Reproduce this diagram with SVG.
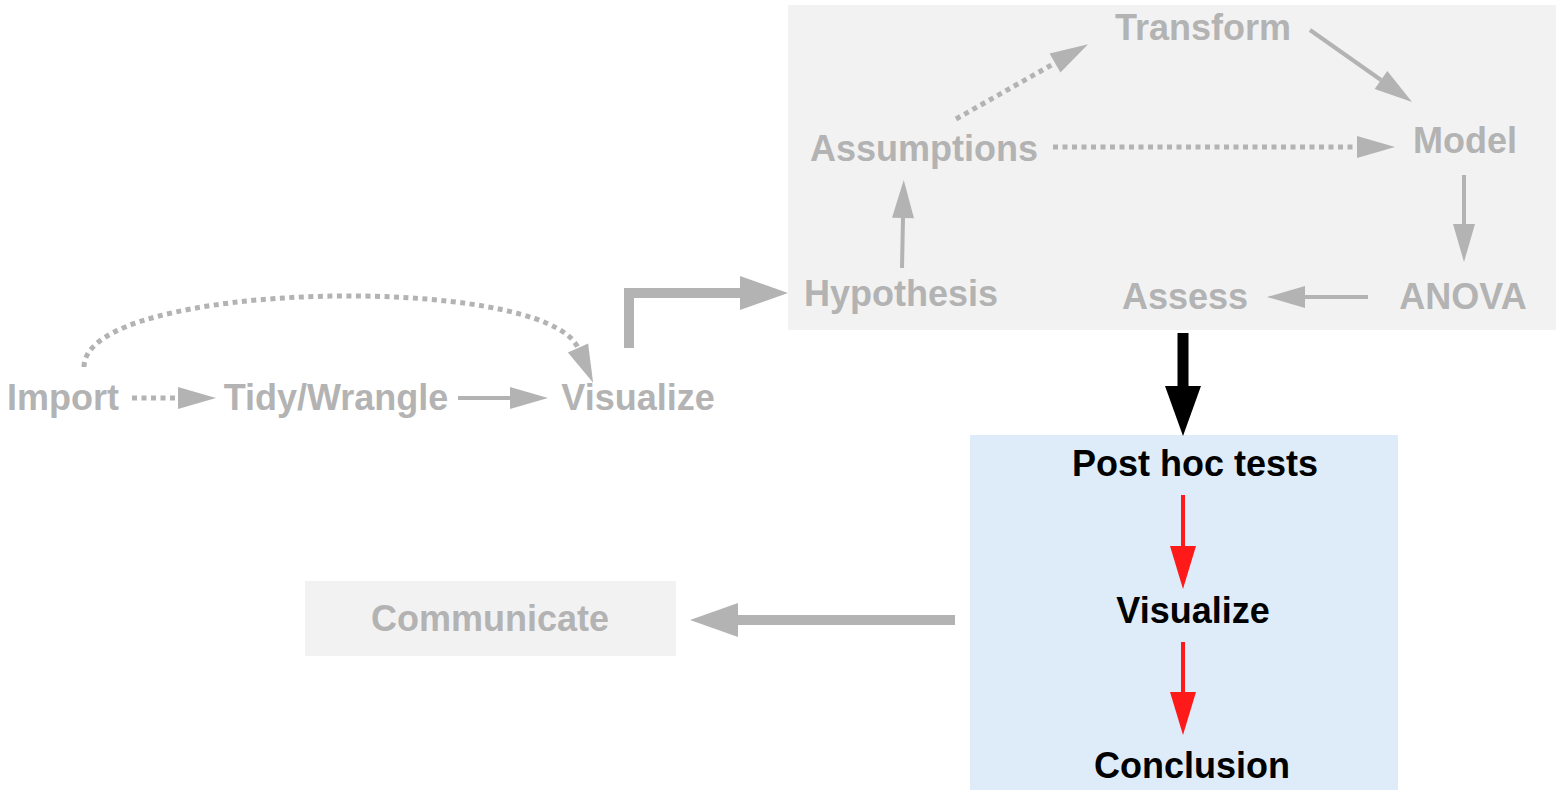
<svg xmlns="http://www.w3.org/2000/svg" width="1561" height="798" viewBox="0 0 1561 798">
  <style>
    text { font-family: "Liberation Sans", Arial, sans-serif; font-weight: bold; font-size: 36px; text-anchor: middle; }
    .muted { fill: #b3b3b3; }
    .dark { fill: #000000; }
    .ln { fill: none; stroke: #b3b3b3; stroke-width: 4; }
    .dot { stroke-width: 5; stroke-dasharray: 5 4.5; }
    .thick { fill: none; stroke: #b3b3b3; stroke-width: 10; stroke-linejoin: miter; }
    .blk { fill: none; stroke: #000000; stroke-width: 11; }
    .red { fill: none; stroke: #ff1a1a; stroke-width: 4; }
  </style>
  <defs>
    <marker id="ah" markerUnits="userSpaceOnUse" orient="auto" refX="0" refY="0" markerWidth="1" markerHeight="1" overflow="visible">
      <path d="M0,-11 L38,0 L0,11 z" fill="#b3b3b3"/>
    </marker>
    <marker id="ahBig" markerUnits="userSpaceOnUse" orient="auto" refX="0" refY="0" markerWidth="1" markerHeight="1" overflow="visible">
      <path d="M0,-17 L48,0 L0,17 z" fill="#b3b3b3"/>
    </marker>
    <marker id="ahBlack" markerUnits="userSpaceOnUse" orient="auto" refX="0" refY="0" markerWidth="1" markerHeight="1" overflow="visible">
      <path d="M0,-18 L50,0 L0,18 z" fill="#000000"/>
    </marker>
    <marker id="ahRed" markerUnits="userSpaceOnUse" orient="auto" refX="0" refY="0" markerWidth="1" markerHeight="1" overflow="visible">
      <path d="M0,-13 L43,0 L0,13 z" fill="#ff1a1a"/>
    </marker>
  </defs>

  <!-- background panels -->
  <g id="panels">
    <rect id="analysis-panel" x="788" y="5" width="768" height="325" fill="#f2f2f2"/>
    <rect id="posthoc-panel" x="970" y="435" width="428" height="355" fill="#deecf9"/>
  </g>

  <!-- nodes -->
  <g id="node-import"><text class="muted" x="63" y="410">Import</text></g>
  <g id="node-tidy"><text class="muted" x="336" y="410">Tidy/Wrangle</text></g>
  <g id="node-visualize1"><text class="muted" x="638" y="410">Visualize</text></g>
  <g id="node-hypothesis"><text class="muted" x="901" y="306">Hypothesis</text></g>
  <g id="node-assumptions"><text class="muted" x="924" y="161">Assumptions</text></g>
  <g id="node-transform"><text class="muted" x="1203" y="40">Transform</text></g>
  <g id="node-model"><text class="muted" x="1465" y="153">Model</text></g>
  <g id="node-anova"><text class="muted" x="1463" y="309">ANOVA</text></g>
  <g id="node-assess"><text class="muted" x="1185" y="309">Assess</text></g>
  <g id="node-posthoc"><text class="dark" x="1195" y="476">Post hoc tests</text></g>
  <g id="node-visualize2"><text class="dark" x="1193" y="623">Visualize</text></g>
  <g id="node-conclusion"><text class="dark" x="1192" y="778">Conclusion</text></g>
  <g id="node-communicate">
    <rect x="305" y="581" width="371" height="75" fill="#f2f2f2"/>
    <text class="muted" x="490" y="631">Communicate</text>
  </g>

  <!-- connectors -->
  <g id="connectors">
    <path class="ln dot" d="M84,367 C84,280 545,272 578,348" marker-end="url(#ah)"/>
    <path class="ln dot" d="M132,398 H178" marker-end="url(#ah)"/>
    <path class="ln" d="M458,398 H510" marker-end="url(#ah)"/>
    <path class="thick" d="M629,348 V293 H740" marker-end="url(#ahBig)"/>
    <path class="ln" d="M902,268 L903,218" marker-end="url(#ah)"/>
    <path class="ln dot" d="M956,119 L1055,63" marker-end="url(#ah)"/>
    <path class="ln dot" d="M1053,147 H1357" marker-end="url(#ah)"/>
    <path class="ln" d="M1310,30 L1381,80" marker-end="url(#ah)"/>
    <path class="ln" d="M1464,175 V224" marker-end="url(#ah)"/>
    <path class="ln" d="M1368,297 H1305" marker-end="url(#ah)"/>
    <path class="blk" d="M1183,333 V386" marker-end="url(#ahBlack)"/>
    <path class="red" d="M1183,495 V546" marker-end="url(#ahRed)"/>
    <path class="red" d="M1183,642 V692" marker-end="url(#ahRed)"/>
    <path class="thick" d="M955,620 H738" marker-end="url(#ahBig)"/>
  </g>
</svg>
